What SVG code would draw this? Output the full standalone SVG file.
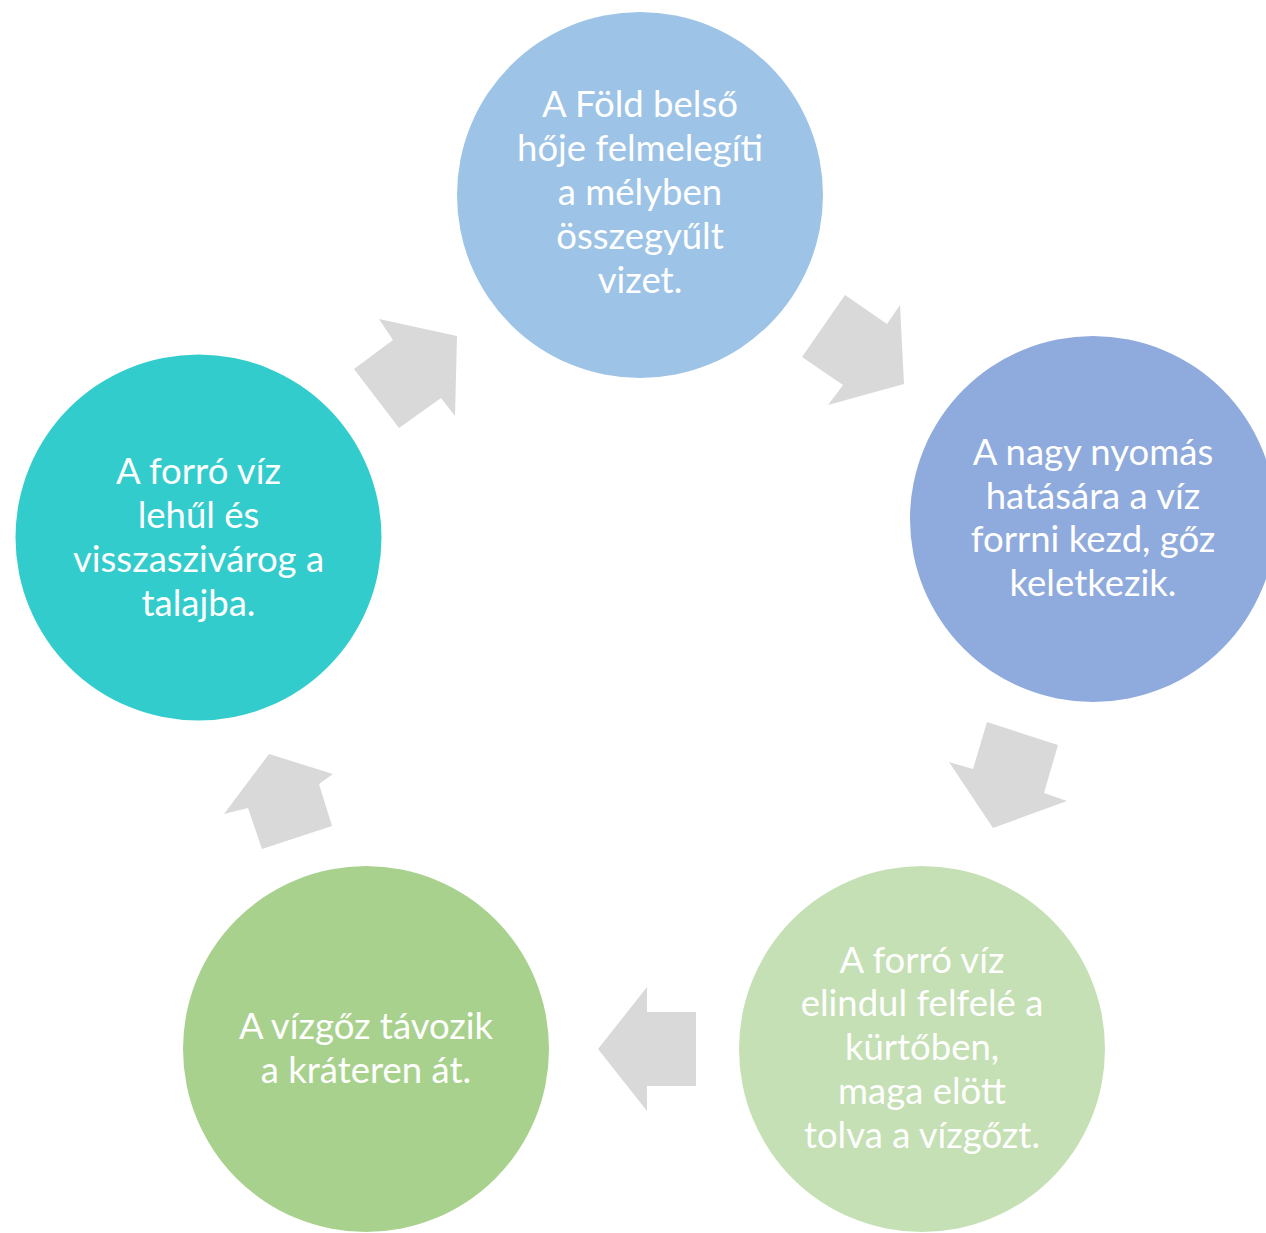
<svg xmlns="http://www.w3.org/2000/svg" width="1266" height="1233" viewBox="0 0 1266 1233">
<style>
.t{font-family:Lato,"Open Sans","Liberation Sans",sans-serif;font-size:36.5px;fill:#ffffff;text-anchor:middle}
.a{fill:#d9d9d9}
</style>
<rect width="1266" height="1233" fill="#ffffff"/>
<g id="connectors">
<polygon class="a" points="845,295 887,324 900,305 904,384 828,405 843,385 802,357"/>
<polygon class="a" points="987,722 1058,745 1044,793 1067,801 993,828 949,762 973,769"/>
<polygon class="a" points="647,987 647,1012 696,1012 696,1086 647,1086 647,1111 598,1049"/>
<polygon class="a" points="269,754 333,774 319,784 332,826 262,849 248,808 224,814"/>
<polygon class="a" points="379,319 457,336 455,416 441,398 399,428 354,369 393,340"/>
</g>
<g id="node1">
<circle cx="640" cy="195" r="183" fill="#9dc3e6"/>
<text class="t" x="640" y="117">A Föld belső</text>
<text class="t" x="640" y="161">hője felmelegíti</text>
<text class="t" x="640" y="205">a mélyben</text>
<text class="t" x="640" y="249">összegyűlt</text>
<text class="t" x="640" y="293">vizet.</text>
</g>
<g id="node2">
<circle cx="1093" cy="519" r="183" fill="#8faadc"/>
<text class="t" x="1093" y="465">A nagy nyomás</text>
<text class="t" x="1093" y="509">hatására a víz</text>
<text class="t" x="1093" y="552">forrni kezd, gőz</text>
<text class="t" x="1093" y="596">keletkezik.</text>
</g>
<g id="node3">
<circle cx="922" cy="1049" r="183" fill="#c5e0b4"/>
<text class="t" x="922" y="973">A forró víz</text>
<text class="t" x="922" y="1016">elindul felfelé a</text>
<text class="t" x="922" y="1060">kürtőben,</text>
<text class="t" x="922" y="1104">maga elött</text>
<text class="t" x="922" y="1148">tolva a vízgőzt.</text>
</g>
<g id="node4">
<circle cx="366" cy="1049" r="183" fill="#a9d18e"/>
<text class="t" x="366" y="1039">A vízgőz távozik</text>
<text class="t" x="366" y="1083">a kráteren át.</text>
</g>
<g id="node5">
<circle cx="198.5" cy="537.5" r="183" fill="#33cccc"/>
<text class="t" x="198.5" y="484">A forró víz</text>
<text class="t" x="198.5" y="528">lehűl és</text>
<text class="t" x="198.5" y="572">visszaszivárog a</text>
<text class="t" x="198.5" y="616">talajba.</text>
</g>
</svg>
